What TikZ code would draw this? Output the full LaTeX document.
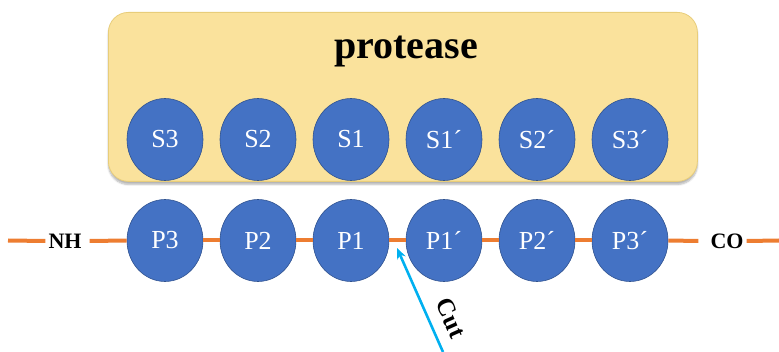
\documentclass[tikz,border=0pt]{standalone}
\usepackage{fontspec}
\setmainfont{Liberation Serif}
\usetikzlibrary{shapes.geometric,arrows.meta,shadows.blur}
\definecolor{boxfill}{HTML}{FAE29C}
\definecolor{boxline}{HTML}{E8CD7A}
\definecolor{siteblue}{HTML}{4472C4}
\definecolor{siteedge}{HTML}{2F528F}
\definecolor{chain}{HTML}{ED7D31}
\definecolor{cutblue}{HTML}{00B0F0}
\tikzset{
  site/.style={ellipse, fill=siteblue, draw=siteedge, line width=0.6pt,
    minimum width=76pt, minimum height=82pt, inner sep=0pt,
    text=white, font=\fontsize{26}{26}\selectfont},
  bond/.style={draw=chain, line width=4pt},
  endlabel/.style={font=\bfseries\fontsize{22}{22}\selectfont, inner sep=0pt}
}
\begin{document}
\begin{tikzpicture}[x=1pt,y=-1pt]
\useasboundingbox (0,0) rectangle (779,352);
% enzyme body
\node[draw=boxline, fill=boxfill, rounded corners=20pt, line width=0.8pt,
  minimum width=589pt, minimum height=169pt, anchor=north west,
  blur shadow={shadow xshift=0pt, shadow yshift=-3pt, shadow blur steps=6, shadow opacity=30}]
  (prot) at (108,12) {};
\node[font=\bfseries\fontsize{40}{40}\selectfont] (title) at (406,52) {protease};
% subsites of the enzyme
\foreach \n/\x/\t in {s3/165/S3, s2/258/S2, s1/351/S1, s1p/444/S1\textasciiacute, s2p/537/S2\textasciiacute, s3p/630/S3\textasciiacute}
  \node[site] (\n) at (\x,139.5) {\t};
% substrate residues
\foreach \n/\x/\t in {p3/165/P3, p2/258/P2, p1/351/P1, p1p/444/P1\textasciiacute, p2p/537/P2\textasciiacute, p3p/630/P3\textasciiacute}
  \node[site] (\n) at (\x,240.5) {\t};
% termini
\node[endlabel] (nh) at (65,241) {NH};
\node[endlabel] (co) at (727,241) {CO};
\coordinate (lend) at (8,240.5);
\coordinate (rend) at (779,240.5);
% peptide chain
\path[bond] (lend) -- ([xshift=-3pt]nh.west);
\path[bond] ([xshift=8pt]nh.east) -- (p3.west);
\path[bond] (p3.east) -- (p2.west);
\path[bond] (p2.east) -- (p1.west);
\path[bond] (p1.east) -- (p1p.west);
\path[bond] (p1p.east) -- (p2p.west);
\path[bond] (p2p.east) -- (p3p.west);
\path[bond] (p3p.east) -- ([xshift=-12pt]co.west);
\path[bond] ([xshift=3pt]co.east) -- (rend);
% cleavage site
\coordinate (cuttail) at (443,352);
\coordinate (cuttip) at (397,248);
\draw[cutblue, line width=2.6pt, -{Stealth[length=11pt,width=9pt]}] (cuttail) -- (cuttip);
\node[font=\bfseries\fontsize{25}{25}\selectfont, rotate=-66, inner sep=0pt] (cut) at (451,318) {Cut};
\end{tikzpicture}
\end{document}
